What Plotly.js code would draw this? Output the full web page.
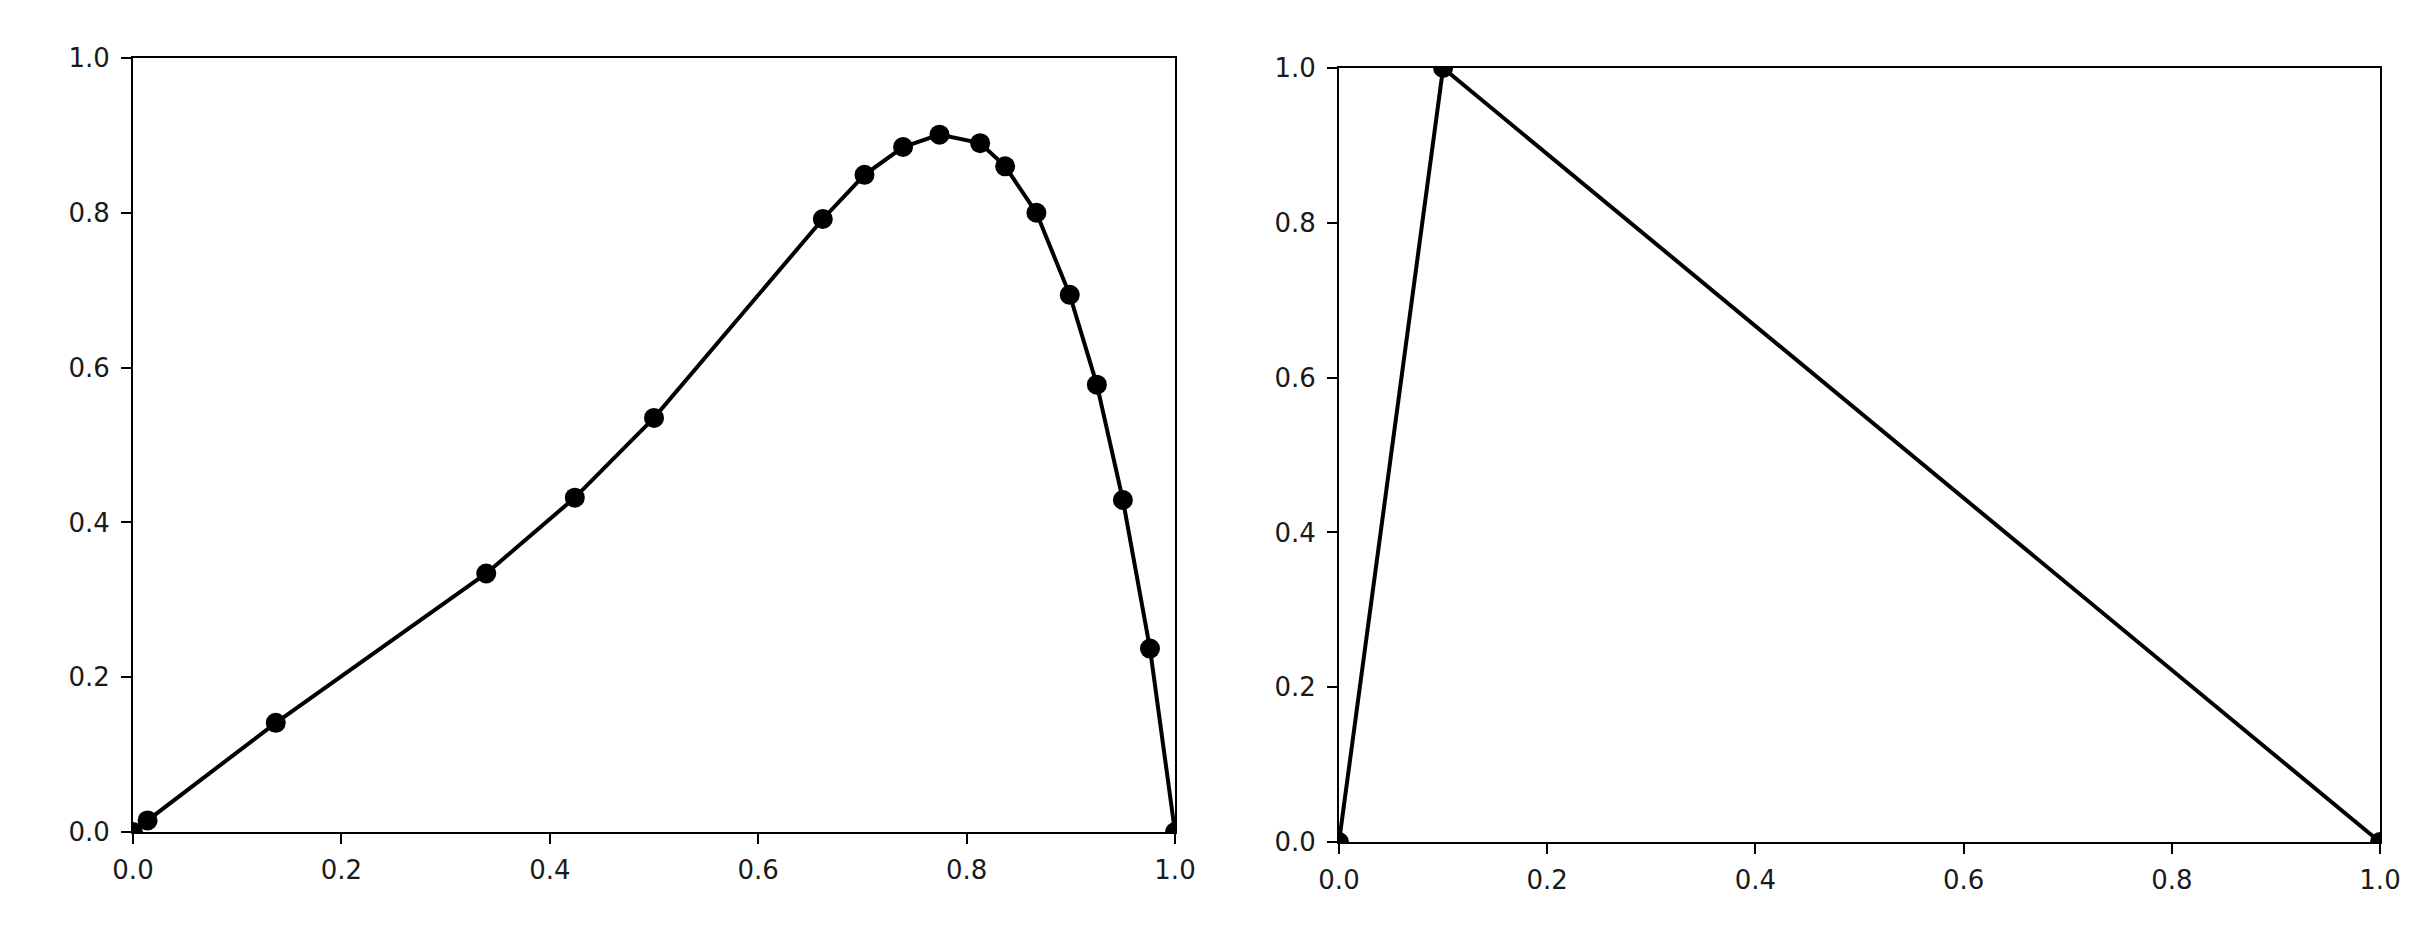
<!DOCTYPE html>
<html>
<head>
<meta charset="utf-8">
<script src="https://cdn.plot.ly/plotly-3.0.1.min.js"></script>
<style>
  html, body { margin: 0; padding: 0; background: #fff; }
  #chart { width: 2436px; height: 933px; }
</style>
</head>
<body>
<div id="chart"></div>
<script>
// Courbe de gauche
const leftX = [0, 0.014, 0.137, 0.339, 0.424, 0.500, 0.662, 0.702, 0.739, 0.774, 0.813, 0.837, 0.867, 0.899, 0.925, 0.950, 0.976, 1.0];
const leftY = [0, 0.015, 0.141, 0.334, 0.432, 0.535, 0.792, 0.849, 0.885, 0.901, 0.890, 0.860, 0.800, 0.694, 0.578, 0.429, 0.237, 0];

// Courbe de droite
const rightX = [0, 0.1, 1.0];
const rightY = [0, 1.0, 0];

const tickVals = [0, 0.2, 0.4, 0.6, 0.8, 1.0];

const CHART = document.getElementById('chart');

function axis(domain, anchor, standoff) {
    return {
        domain: domain,
        anchor: anchor,
        range: [0, 1],
        tickvals: tickVals,
        tickformat: '.1f',
        ticks: 'outside',
        ticklen: 10,
        tickwidth: 2,
        tickcolor: '#000',
        ticklabelstandoff: standoff,
        showline: true,
        linecolor: '#000',
        linewidth: 2,
        mirror: true,
        showgrid: false,
        zeroline: false,
        tickfont: { family: 'DejaVu Sans', size: 26, color: '#1a1a1a' }
    };
}

const lineStyle = { color: '#000', width: 4 };
const markerStyle = { color: '#000', size: 20 };

Plotly.newPlot(CHART, [
    {
        x: leftX,
        y: leftY,
        xaxis: 'x',
        yaxis: 'y',
        type: 'scatter',
        mode: 'lines+markers',
        line: lineStyle,
        marker: markerStyle,
        cliponaxis: true
    },
    {
        x: rightX,
        y: rightY,
        xaxis: 'x2',
        yaxis: 'y2',
        type: 'scatter',
        mode: 'lines+markers',
        line: lineStyle,
        marker: markerStyle,
        cliponaxis: true
    }
], {
    width: 2436,
    height: 933,
    showlegend: false,
    paper_bgcolor: '#fff',
    plot_bgcolor: '#fff',
    margin: { l: 0, r: 0, t: 0, b: 0, pad: 0 },
    xaxis: axis([133 / 2436, 1175 / 2436], 'y', 4),
    yaxis: axis([1 - 832 / 933, 1 - 58 / 933], 'x', 6),
    xaxis2: axis([1339 / 2436, 2380 / 2436], 'y2', 4),
    yaxis2: axis([1 - 842 / 933, 1 - 68 / 933], 'x2', 6)
}, {
    displayModeBar: false,
    staticPlot: true
});
</script>
</body>
</html>
